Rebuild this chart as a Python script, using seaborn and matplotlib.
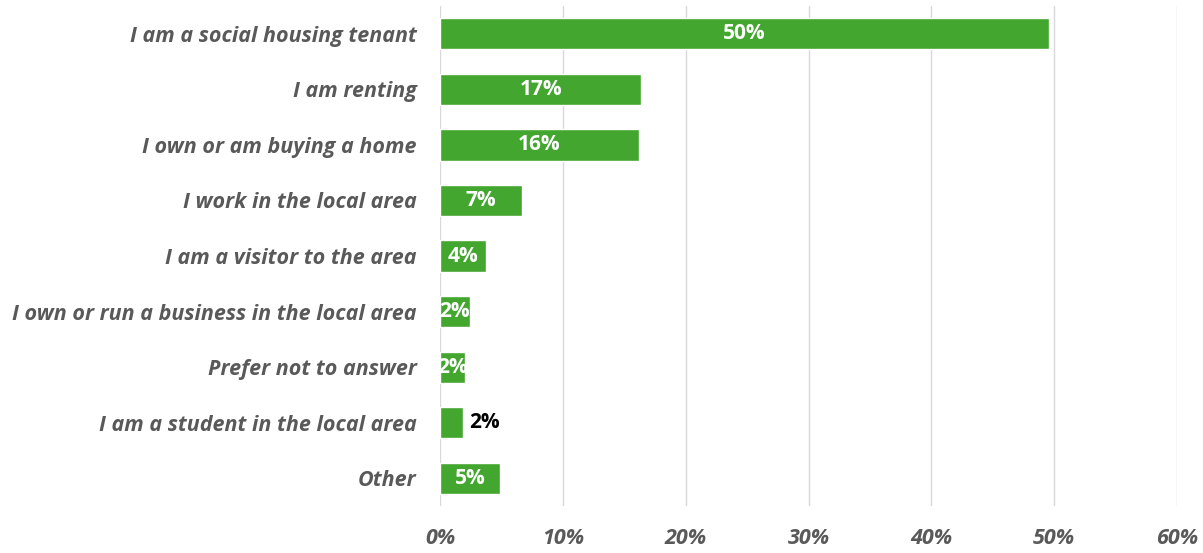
import matplotlib
matplotlib.use("Agg")
import matplotlib.pyplot as plt
import seaborn as sns
import pandas as pd
from matplotlib.ticker import FuncFormatter

# Survey answers and share of respondents (%)
categories = [
    "I am a social housing tenant",
    "I am renting",
    "I own or am buying a home",
    "I work in the local area",
    "I am a visitor to the area",
    "I own or run a business in the local area",
    "Prefer not to answer",
    "I am a student in the local area",
    "Other",
]
shares = [49.6, 16.4, 16.2, 6.7, 3.7, 2.4, 2.0, 1.9, 4.9]
labels = ["50%", "17%", "16%", "7%", "4%", "2%", "2%", "2%", "5%"]
x_ticks = [0, 10, 20, 30, 40, 50, 60]

df = pd.DataFrame({"answer": categories, "share": shares})

sns.set_style("white")
plt.rcParams["font.family"] = ["Open Sans", "DejaVu Sans"]

fig = plt.figure(figsize=(12.03, 5.53), dpi=100)
ax = fig.add_axes([0.3658, 0.085, 0.6126, 0.904])

sns.barplot(data=df, x="share", y="answer", orient="h", color="#43A62F",
            saturation=1, width=0.56, ax=ax)

ax.set_xlim(0, 60)
ax.set_xticks(x_ticks)
ax.xaxis.set_major_formatter(FuncFormatter(lambda v, p: f"{v:.0f}%"))
ax.grid(axis="x", color="#D9D9D9", linewidth=1)
ax.set_axisbelow(True)
sns.despine(ax=ax, left=True, bottom=True, top=True, right=True)
ax.set_xlabel("")
ax.set_ylabel("")
ax.tick_params(axis="both", length=0)
ax.tick_params(axis="y", pad=17)
ax.tick_params(axis="x", pad=16)
for t in ax.get_yticklabels() + ax.get_xticklabels():
    t.set_fontsize(15.5)
    t.set_fontweight("bold")
    t.set_fontstyle("italic")
    t.set_color("#595959")

# value labels: centred in the bar, except the student bar (outside, black)
bars = ax.containers[0]
for i, (rect, lab) in enumerate(zip(bars, labels)):
    y = rect.get_y() + rect.get_height() / 2
    if categories[i] == "I am a student in the local area":
        ax.text(rect.get_width() + 0.5, y, lab, ha="left", va="center",
                color="black", fontsize=15, fontweight="bold")
    else:
        ax.text(rect.get_width() / 2, y, lab, ha="center", va="center",
                color="white", fontsize=15, fontweight="bold")

fig.savefig("out.png", dpi=100)
